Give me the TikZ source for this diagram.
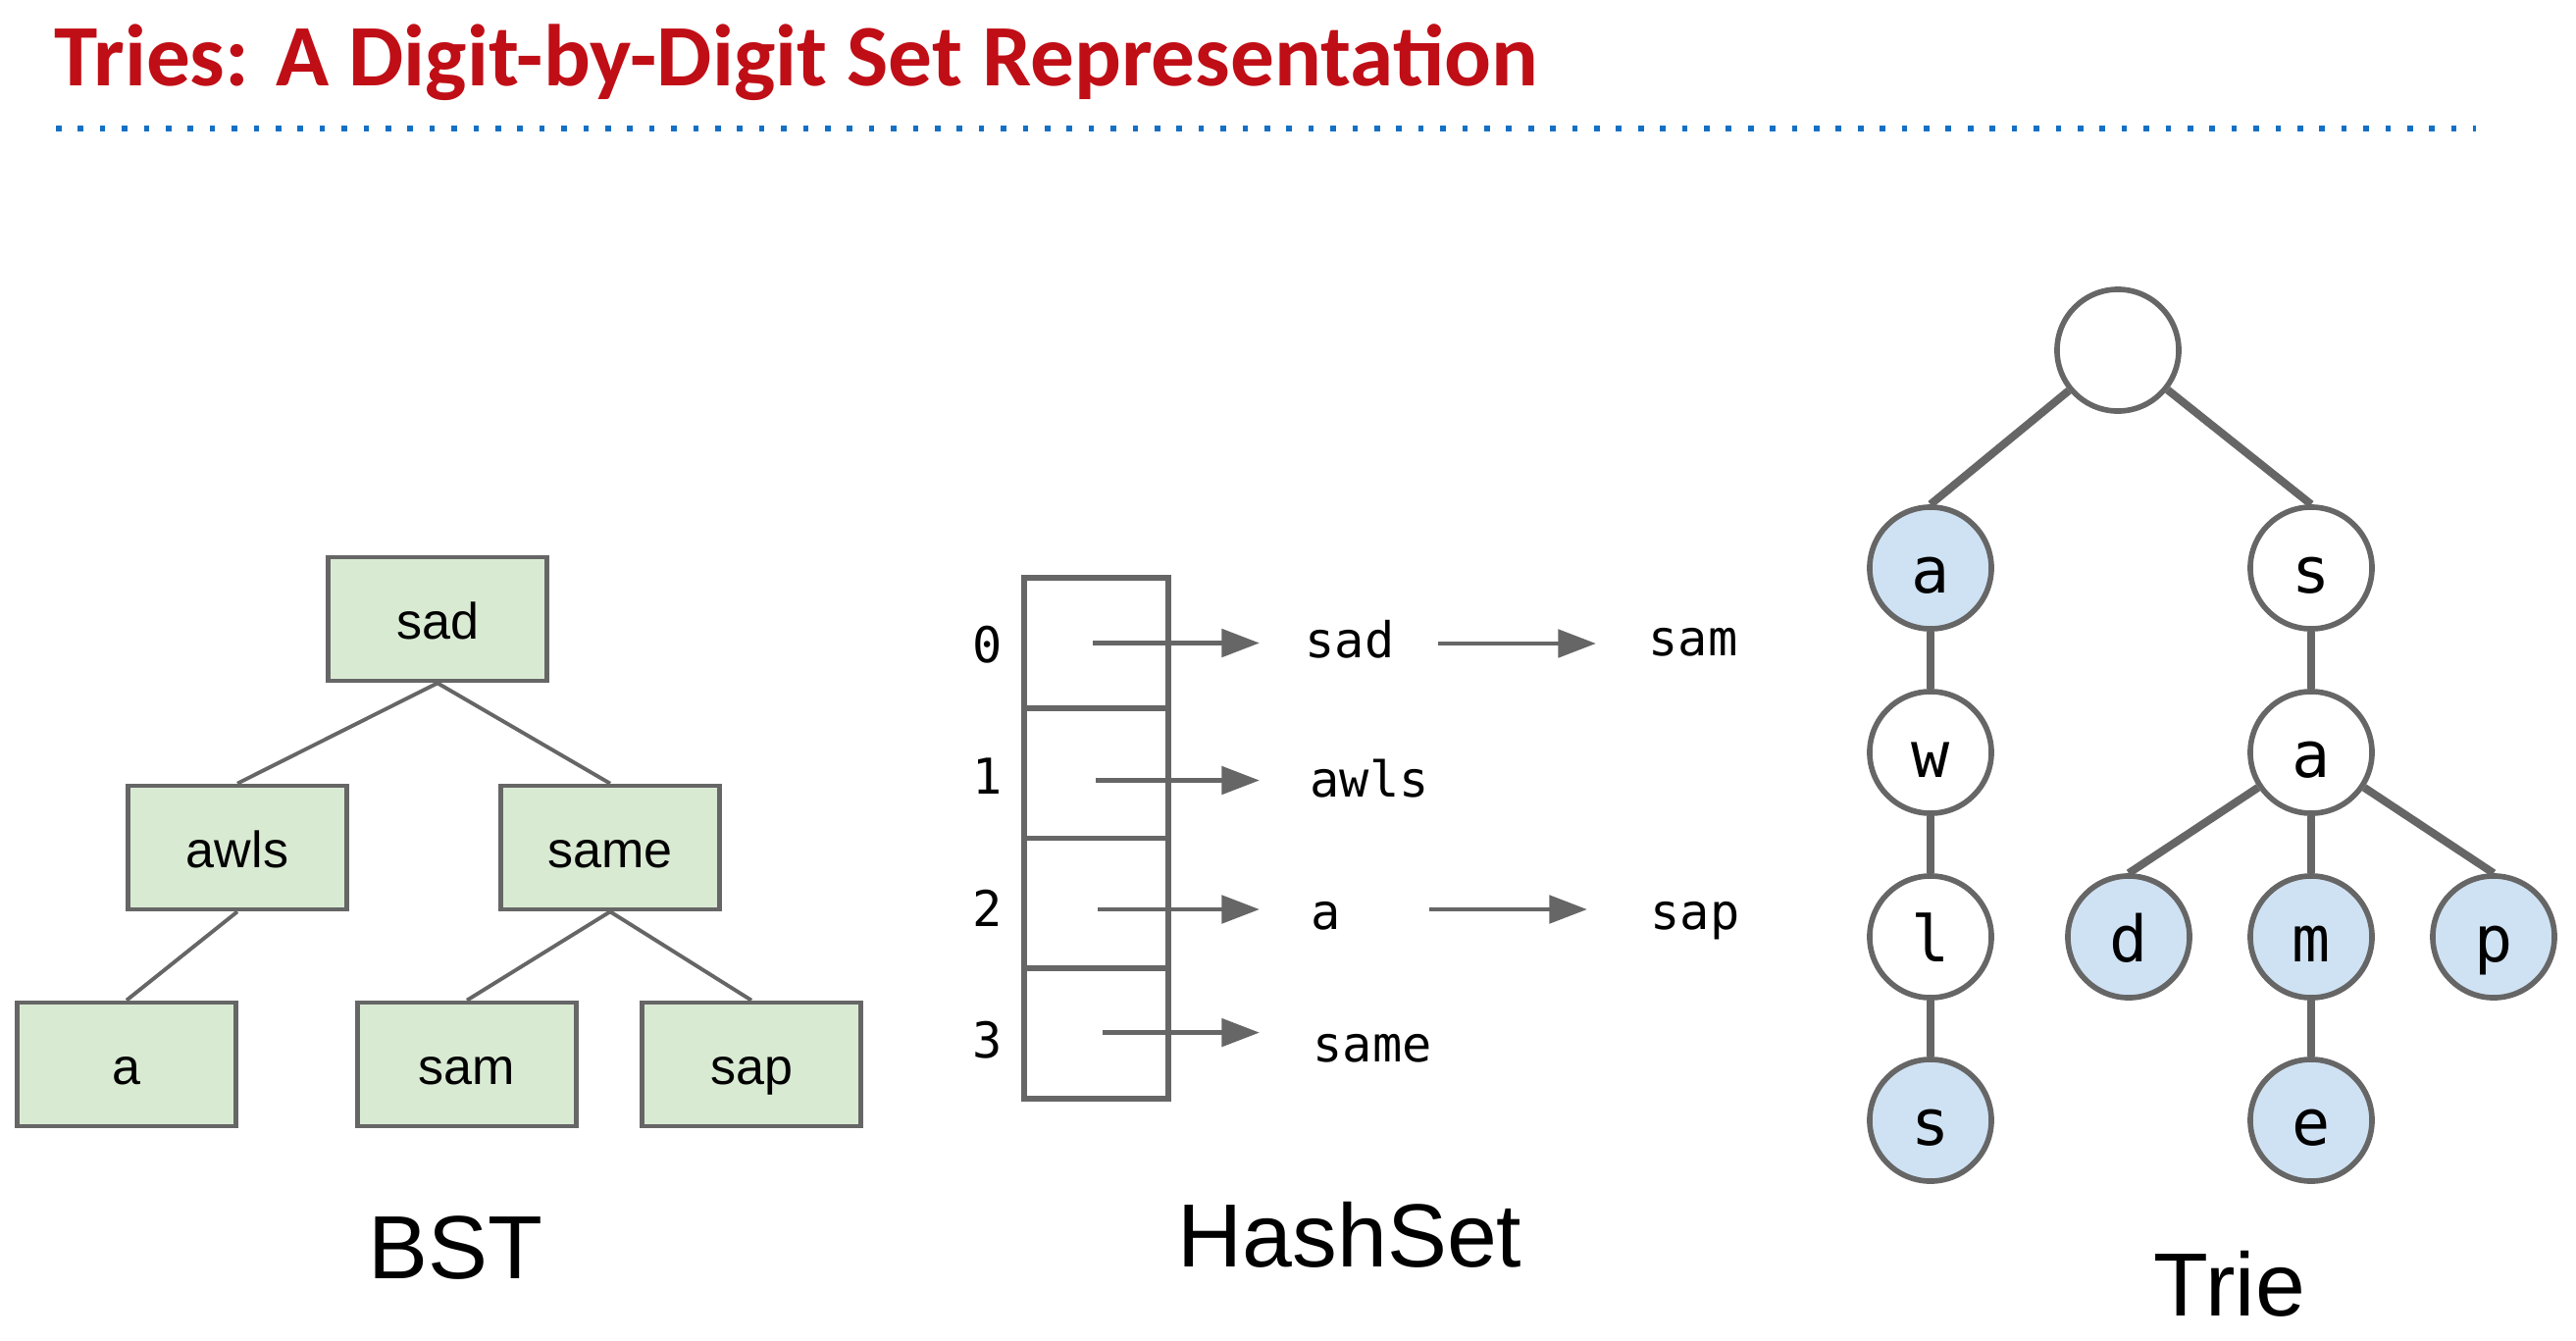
\documentclass[tikz,border=0pt]{standalone}
\usepackage{fontspec}
\setmainfont{Liberation Sans}
\newfontfamily\titlefont{Carlito}
\newfontfamily\codefont{DejaVu Sans Mono}
\usetikzlibrary{arrows.meta}
\definecolor{linegray}{HTML}{666666}
\definecolor{bstfill}{HTML}{D9EAD3}
\definecolor{triefill}{HTML}{CFE2F3}
\definecolor{titlered}{RGB}{192,14,22}
\definecolor{dotblue}{RGB}{20,112,196}
\begin{document}
\begin{tikzpicture}[x=0.01cm,y=-0.01cm,
  bstbox/.style={draw=linegray,line width=1.3pt,fill=bstfill,minimum width=2.23cm,minimum height=1.26cm,inner sep=0pt,text height=0.4cm,text depth=0pt,font=\fontsize{14.8pt}{16pt}\selectfont},
  bstedge/.style={draw=linegray,line width=1.1pt},
  cellbox/.style={draw=linegray,line width=1.6pt,minimum width=1.47cm,minimum height=1.3275cm,inner sep=0pt},
  codetext/.style={inner sep=0pt,font=\codefont\fontsize{14.3pt}{16pt}\selectfont},
  harrow/.style={draw=linegray,line width=1.4pt,-{Triangle[length=11pt,width=8pt]}},
  trienode/.style={circle,draw=linegray,line width=1.6pt,fill=white,minimum size=1.24cm,inner sep=0pt,text height=0.5cm,text depth=0pt,font=\codefont\fontsize{18.5pt}{20pt}\selectfont},
  trieleaf/.style={trienode,fill=triefill},
  trieedge/.style={draw=linegray,line width=2.3pt},
  biglabel/.style={inner sep=0pt,font=\fontsize{26pt}{28pt}\selectfont}]
\useasboundingbox (0,0) rectangle (2626,1366);
% title
\node[anchor=base west,inner sep=0pt,text=titlered,font=\titlefont\bfseries\fontsize{25.4pt}{30pt}\selectfont] (title) at (55,87) {Tries: A Digit-by-Digit Set Representation};
\coordinate (dl) at (57,131);
\coordinate (dr) at (2524,131);
\draw[dotblue,line width=1.6pt,dash pattern=on 1.6pt off 4.77pt] (dl) -- (dr);
% BST
\node[bstbox] (sad) at (446,631) {sad};
\node[bstbox] (awls) at (242,864) {awls};
\node[bstbox] (same) at (622,864) {same};
\node[bstbox] (a) at (129,1085) {a};
\node[bstbox] (sam) at (476,1085) {sam};
\node[bstbox] (sap) at (766,1085) {sap};
\draw[bstedge] (sad.south) -- (awls.north);
\draw[bstedge] (sad.south) -- (same.north);
\draw[bstedge] (awls.south) -- (a.north);
\draw[bstedge] (same.south) -- (sam.north);
\draw[bstedge] (same.south) -- (sap.north);
\node[biglabel,anchor=base] (bstlabel) at (464,1303) {BST};
% HashSet
\node[cellbox] (cell0) at (1117.5,655.4) {};
\node[cellbox] (cell1) at (1117.5,788.1) {};
\node[cellbox] (cell2) at (1117.5,920.9) {};
\node[cellbox] (cell3) at (1117.5,1053.6) {};
\node[codetext,anchor=base] (i0) at (1007,675) {0};
\node[codetext,anchor=base] (i1) at (1007,809) {1};
\node[codetext,anchor=base] (i2) at (1007,944) {2};
\node[codetext,anchor=base] (i3) at (1007,1078) {3};
\node[codetext,anchor=base west] (hsad) at (1330,670) {sad};
\node[codetext,anchor=base west] (hsam) at (1680,668) {sam};
\node[codetext,anchor=base west] (hawls) at (1335,812) {awls};
\node[codetext,anchor=base west] (ha) at (1336,947) {a};
\node[codetext,anchor=base west] (hsap) at (1682,947) {sap};
\node[codetext,anchor=base west] (hsame) at (1338,1082) {same};
\coordinate (s0) at (1114,655.5); \coordinate (t0) at (1284,655.5);
\coordinate (s1) at (1117,795.5); \coordinate (t1) at (1284,795.5);
\coordinate (s2) at (1119,927); \coordinate (t2) at (1284,927);
\coordinate (s3) at (1124,1052.6); \coordinate (t3) at (1284,1052.6);
\coordinate (u0) at (1466,656); \coordinate (v0) at (1627,656);
\coordinate (u2) at (1457,927); \coordinate (v2) at (1618,927);
\draw[harrow] (s0) -- (t0);
\draw[harrow] (s1) -- (t1);
\draw[harrow] (s2) -- (t2);
\draw[harrow] (s3) -- (t3);
\draw[harrow] (u0) -- (v0);
\draw[harrow] (u2) -- (v2);
\node[biglabel,anchor=base] (hashlabel) at (1376,1291) {HashSet};
% Trie
\node[trienode] (root) at (2159,357) {};
\node[trieleaf] (ta) at (1968,579) {a};
\node[trienode] (ts) at (2356,579) {s};
\node[trienode] (tw) at (1968,767) {w};
\node[trienode] (ta2) at (2356,767) {a};
\node[trienode] (tl) at (1968,955) {l};
\node[trieleaf] (td) at (2170,955) {d};
\node[trieleaf] (tm) at (2356,955) {m};
\node[trieleaf] (tp) at (2542,955) {p};
\node[trieleaf] (ts2) at (1968,1142) {s};
\node[trieleaf] (te) at (2356,1142) {e};
\draw[trieedge] (root) -- (ta.north);
\draw[trieedge] (root) -- (ts.north);
\draw[trieedge] (ta) -- (tw);
\draw[trieedge] (tw) -- (tl);
\draw[trieedge] (tl) -- (ts2);
\draw[trieedge] (ts) -- (ta2);
\draw[trieedge] (ta2) -- (td.north);
\draw[trieedge] (ta2) -- (tm);
\draw[trieedge] (ta2) -- (tp.north);
\draw[trieedge] (tm) -- (te);
\node[biglabel,anchor=base] (trielabel) at (2273,1341) {Trie};
\end{tikzpicture}
\end{document}
